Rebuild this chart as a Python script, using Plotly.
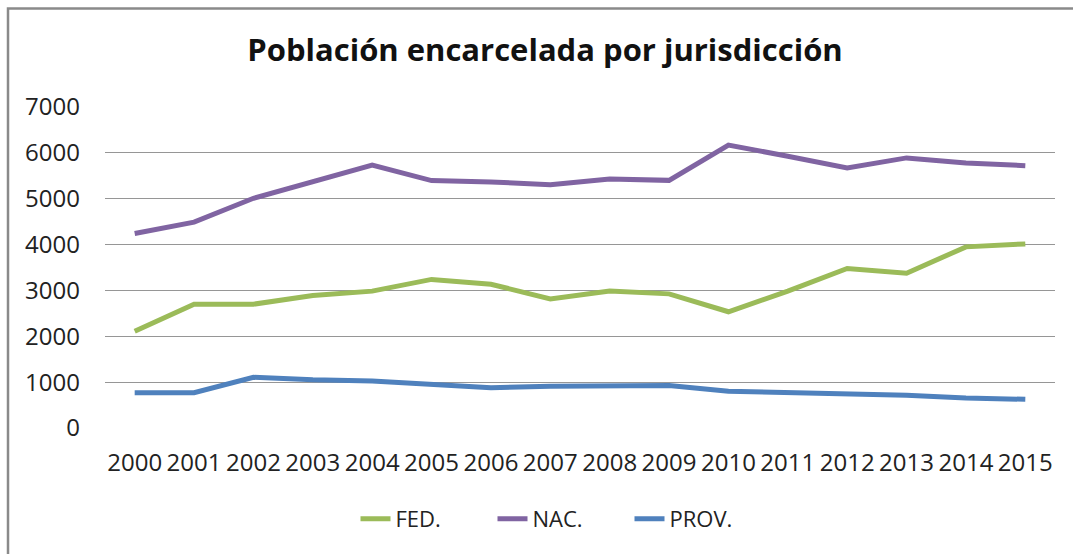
import plotly.graph_objects as go

# Población carcelaria por jurisdicción, 2000-2015
years = list(range(2000, 2016))
fed = [2110, 2700, 2700, 2890, 2985, 3240, 3135, 2815, 2985, 2925, 2535, 2985, 3480, 3375, 3950, 4015]
nac = [4240, 4490, 5010, 5360, 5735, 5395, 5365, 5305, 5430, 5400, 6170, 5925, 5670, 5890, 5780, 5720]
prov = [770, 770, 1105, 1050, 1025, 965, 880, 910, 930, 925, 800, 770, 740, 715, 655, 625]

series = [
    ("FED.", fed, "#9BBB59"),
    ("NAC.", nac, "#8064A2"),
    ("PROV.", prov, "#4F81BD"),
]

FONT = "Open Sans"

fig = go.Figure()
for name, vals, color in series:
    fig.add_trace(go.Scatter(
        x=years, y=vals, name=name, mode="lines",
        line=dict(color=color, width=5),
    ))

fig.update_layout(
    width=1073, height=554,
    margin=dict(l=105, r=18, t=107, b=126, autoexpand=False),
    paper_bgcolor="white", plot_bgcolor="white",
    font=dict(family=FONT, size=24, color="#222222"),
    title=dict(
        text="<b>Población encarcelada por jurisdicción</b>",
        x=545 / 1073, xanchor="center", xref="container",
        y=1 - 50 / 554, yref="container", yanchor="middle",
        font=dict(family=FONT, size=31, color="#111111"),
    ),
    showlegend=True,
    legend=dict(
        orientation="h", x=(561 - 105) / 950, xanchor="center",
        y=-0.283, yanchor="middle",
        font=dict(family=FONT, size=22, color="#222222"),
        entrywidth=92, entrywidthmode="pixels",
    ),
    xaxis=dict(
        range=[1999.5, 2015.5], tickmode="array", tickvals=years,
        ticktext=[str(y) for y in years], tickangle=0,
        showgrid=False, zeroline=False, showline=False, ticks="",
        ticklabelstandoff=18, automargin=False,
    ),
    yaxis=dict(
        range=[0, 7000], tickmode="linear", tick0=0, dtick=1000,
        showgrid=True, gridcolor="#969696", gridwidth=1.3,
        zeroline=False, showline=False, ticks="",
        ticklabelstandoff=24, automargin=False,
    ),
)

# Chart frame (gray border along the top and left of the chart area)
fig.add_shape(
    type="rect", xref="paper", yref="paper",
    x0=-0.1021, x1=1.1, y0=-0.45, y1=1.307,
    line=dict(color="#8A8A8A", width=2.5), fillcolor="rgba(0,0,0,0)",
    layer="below",
)

fig.write_html("out.html")
